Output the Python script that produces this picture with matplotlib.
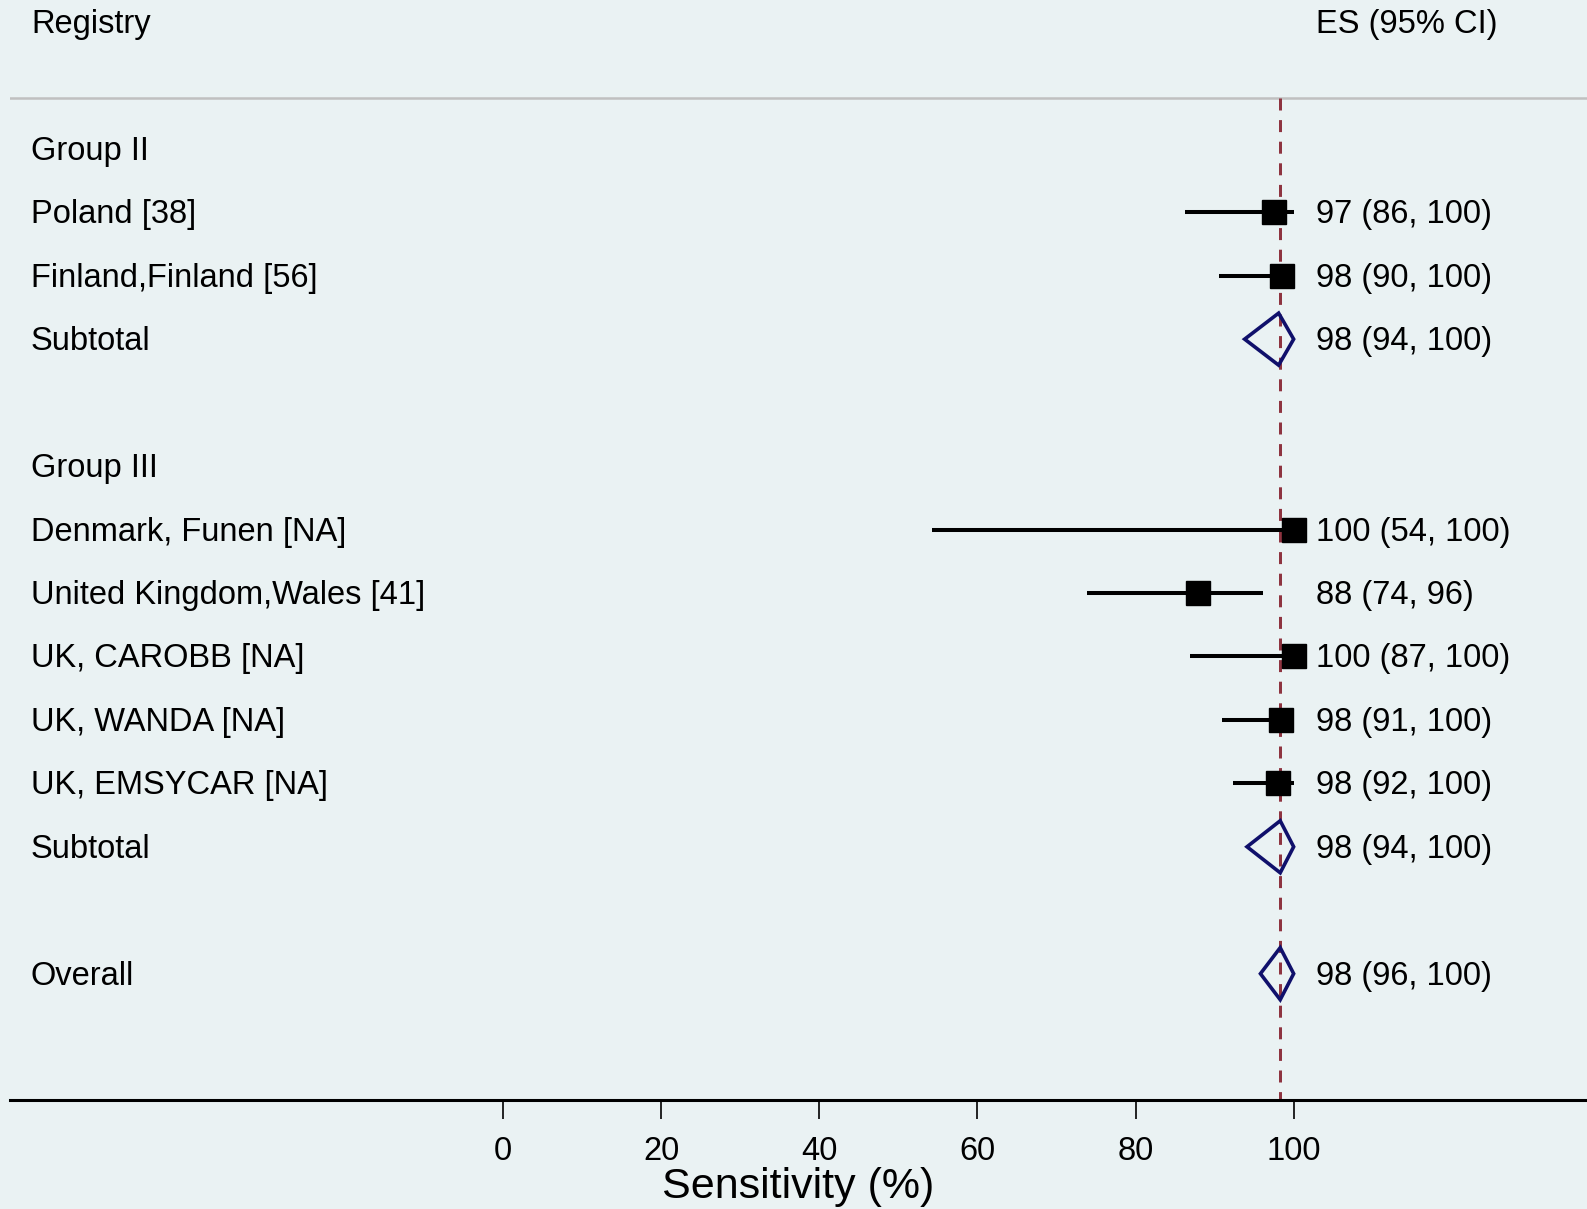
import matplotlib
matplotlib.use("Agg")
import matplotlib.pyplot as plt
from matplotlib.patches import Polygon

plt.rcParams['font.family'] = ['Liberation Sans', 'DejaVu Sans']

# study rows
studies = ["Poland [38]", "Finland,Finland [56]", "Denmark, Funen [NA]",
           "United Kingdom,Wales [41]", "UK, CAROBB [NA]", "UK, WANDA [NA]",
           "UK, EMSYCAR [NA]"]
study_rows = [1, 2, 6, 7, 8, 9, 10]
study_es = [97.5, 98.5, 100.0, 87.9, 100.0, 98.4, 98.0]
study_lo = [86.3, 90.6, 54.2, 73.9, 86.9, 91.0, 92.3]
study_hi = [100.0, 100.0, 100.0, 96.1, 100.0, 100.0, 100.0]
study_text = ["97 (86, 100)", "98 (90, 100)", "100 (54, 100)", "88 (74, 96)",
              "100 (87, 100)", "98 (91, 100)", "98 (92, 100)"]

# pooled estimates (diamonds)
pooled_labels = ["Subtotal", "Subtotal", "Overall"]
pooled_rows = [3, 11, 13]
pooled_es = [98.1, 98.3, 98.3]
pooled_lo = [93.8, 94.1, 95.8]
pooled_hi = [100.0, 100.0, 100.0]
pooled_text = ["98 (94, 100)", "98 (94, 100)", "98 (96, 100)"]

groups = ["Group II", "Group III"]
group_rows = [0, 5]

xticks = [0, 20, 40, 60, 80, 100]

bg = '#eaf2f3'
fs = 23.5
dy = 0.04  # small nudge so text sits like the reference

fig = plt.figure(figsize=(15.87, 12.09), dpi=100, facecolor=bg)
ax = fig.add_axes([10 / 1587, 0.0902, 1 - 10 / 1587, 1 - 0.0902])
ax.set_facecolor(bg)
ax.set_xlim(-62.35, 137.1)
ax.set_ylim(14.99, -2.345)

label_x = -59.7
es_x = 102.8

# header
ax.text(label_x, -2 + dy, "Registry", fontsize=fs, va='center')
ax.text(es_x, -2 + dy, "ES (95% CI)", fontsize=fs, va='center')
ax.axhline(-0.8, color='#c0c0c0', lw=1.8, zorder=1)

# line of overall effect
ax.plot([pooled_es[-1], pooled_es[-1]], [-0.8, 15], color='#8e3440', lw=2.16,
        linestyle=(0, (4, 3.2)), zorder=2, clip_on=False)

for g, r in zip(groups, group_rows):
    ax.text(label_x, r + dy, g, fontsize=fs, va='center')

for name, r, es, lo, hi, txt in zip(studies, study_rows, study_es, study_lo, study_hi, study_text):
    ax.text(label_x, r + dy, name, fontsize=fs, va='center')
    ax.plot([lo, hi], [r, r], color='black', lw=2.9, solid_capstyle='butt', zorder=3)
    ax.plot(es, r, marker='s', color='black', markersize=17, zorder=4)
    ax.text(es_x, r + dy, txt, fontsize=fs, va='center')

h = 0.41
for name, r, es, lo, hi, txt in zip(pooled_labels, pooled_rows, pooled_es, pooled_lo, pooled_hi, pooled_text):
    ax.text(label_x, r + dy, name, fontsize=fs, va='center')
    d = Polygon([(lo, r), (es, r - h), (hi, r), (es, r + h)], closed=True,
                fill=False, edgecolor='#10106b', lw=2.6, zorder=4)
    ax.add_patch(d)
    ax.text(es_x, r + dy, txt, fontsize=fs, va='center')

for s in ['top', 'left', 'right']:
    ax.spines[s].set_visible(False)
ax.spines['bottom'].set_linewidth(2.2)
ax.set_yticks([])
ax.set_xticks(xticks)
ax.tick_params(axis='x', length=14, width=1.2, labelsize=fs, pad=12)
ax.set_xlabel("Sensitivity (%)", fontsize=31, labelpad=0)

fig.savefig("out.png", dpi=100, facecolor=bg)
